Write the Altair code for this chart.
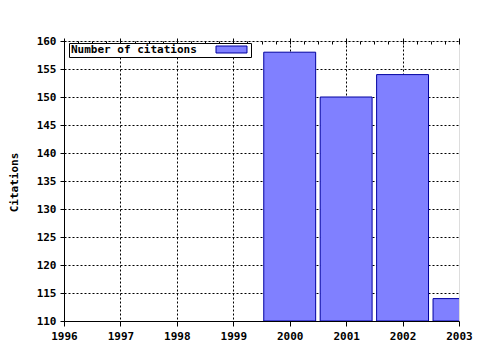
import altair as alt
import pandas as pd

years = [2000, 2001, 2002, 2003]
citations = [158, 150, 154, 114]
series = ["Number of citations"] * 4
x_ticks = [1996 + i * 0.25 for i in range(29)]
y_ticks = [110, 115, 120, 125, 130, 135, 140, 145, 150, 155, 160]

df = pd.DataFrame({"year": years, "citations": citations, "series": series})

FONT = "DejaVu Sans Mono"
major = "datum.value % 1 === 0"

base = alt.Chart(df).transform_calculate(
    x0="datum.year - 0.46", x1="datum.year + 0.46"
)

bars = base.mark_bar(clip=True, stroke="#0000a0", strokeWidth=1).encode(
    x=alt.X("x0:Q", scale=alt.Scale(domain=[1996, 2003], nice=False, zero=False),
            axis=alt.Axis(title=None, values=x_ticks, format="d",
                          labelExpr=f"{major} ? datum.label : ''",
                          tickSize={"condition": {"test": major, "value": 5}, "value": 3},
                          grid=True,
                          gridOpacity={"condition": {"test": major + " && datum.value > 1996 && datum.value < 2003", "value": 1}, "value": 0},
                          gridDash=[2, 2], gridColor="black",
                          domainColor="black", tickColor="black",
                          labelFont=FONT, labelFontWeight="bold", labelFontSize=11,
                          labelColor="black", labelPadding=4, labelFlush=False)),
    x2="x1:Q",
    y=alt.Y("citations:Q", scale=alt.Scale(domain=[110, 160], nice=False, zero=False),
            axis=alt.Axis(title="Citations", values=y_ticks, tickSize=4,
                          grid=True, gridDash=[2, 2], gridColor="black",
                          domainColor="black", tickColor="black",
                          labelFont=FONT, labelFontWeight="bold", labelFontSize=11,
                          labelColor="black", labelPadding=4,
                          titleFont=FONT, titleFontWeight="bold", titleFontSize=11,
                          titleColor="black", titleX=-45, titleY=141)),
    y2=alt.datum(110),
    color=alt.Color("series:N", scale=alt.Scale(range=["#8080ff"]),
                    legend=alt.Legend(title="Number of citations", titleOrient="left",
                                      labelExpr="''", labelOffset=0, labelFontSize=1,
                                      orient="none", legendX=5, legendY=2,
                                      symbolType="M-4,-0.9H4V0.9H-4Z", symbolSize=60,
                                      symbolStrokeColor="#0000a0", symbolStrokeWidth=1,
                                      symbolOpacity=1,
                                      titleFont=FONT, titleFontWeight="bold",
                                      titleFontSize=11, titleColor="black",
                                      titlePadding=30, titleAnchor="middle",
                                      titleBaseline="middle",
                                      strokeColor="black", fillColor="white",
                                      padding=2)),
)

top = base.mark_point(opacity=0).encode(
    x=alt.X("x0:Q", axis=alt.Axis(orient="top", title=None, values=x_ticks,
                                  labels=False, domain=False, grid=False,
                                  tickColor="black", offset=-3,
                                  tickSize={"condition": {"test": major, "value": 6}, "value": 3})),
)

chart = alt.layer(bars, top).resolve_axis(x="independent").properties(
    width=395, height=280,
    autosize=alt.AutoSizeParams(type="none"),
    padding={"left": 64, "top": 41, "right": 21, "bottom": 29},
).configure_view(stroke="black", strokeWidth=1).configure(background="white")

chart.save("out.html", embed_options={"renderer": "svg", "actions": False})
